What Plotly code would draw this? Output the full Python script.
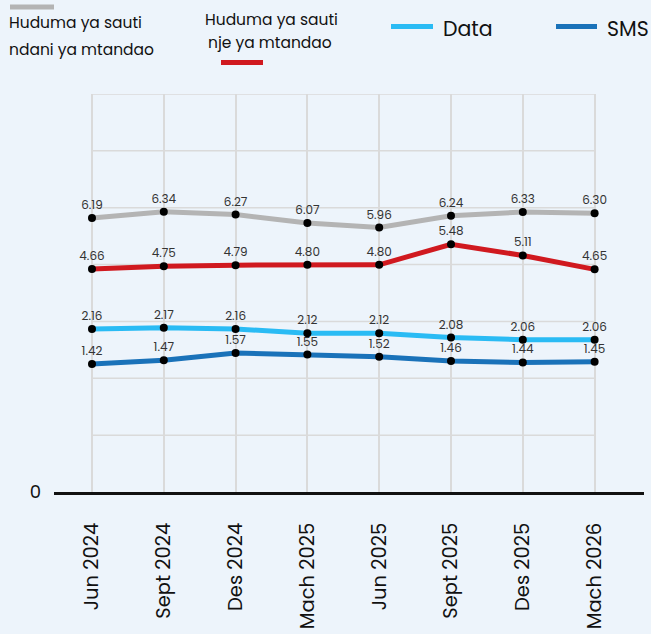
import plotly.graph_objects as go

categories = ["Jun 2024", "Sept 2024", "Des 2024", "Mach 2025", "Jun 2025", "Sept 2025", "Des 2025", "Mach 2026"]
sauti_ndani = [6.19, 6.34, 6.27, 6.07, 5.96, 6.24, 6.33, 6.30]
sauti_nje = [4.66, 4.75, 4.79, 4.80, 4.80, 5.48, 5.11, 4.65]
data_vals = [2.16, 2.17, 2.16, 2.12, 2.12, 2.08, 2.06, 2.06]
sms_vals = [1.42, 1.47, 1.57, 1.55, 1.52, 1.46, 1.44, 1.45]
tick_labels = ["Jun 2024", "Sept 2024", "Des 2024", "Mach 2025", "Jun 2025", "Sept 2025", "Des 2025", "Mach 2026"]

W, H = 651, 634
L, R, T, B = 54, 7, 94, 142
PW, PH = W - L - R, H - T - B

def px(x):
    return (x - L) / PW

def py(y):
    return (H - B - y) / PH

FONT = "Poppins, Inter, 'Noto Sans', sans-serif"
BG = "#EDF4FB"

series = [
    ("Huduma ya sauti ndani ya mtandao", sauti_ndani, "#B4B4B4", "y2", [-0.39, 9.165]),
    ("Huduma ya sauti nje ya mtandao", sauti_nje, "#D0191F", "y3", [-2.70, 10.44]),
    ("Data", data_vals, "#2ABBF4", "y4", [0.64, 4.35]),
    ("SMS", sms_vals, "#1A72B9", "y5", [-0.365, 5.18]),
]

fig = go.Figure()
layout_axes = {}
for i, (name, vals, col, yax, rng) in enumerate(series):
    fig.add_trace(go.Scatter(
        x=categories, y=vals, name=name, yaxis=yax,
        mode="lines+markers+text",
        line=dict(color=col, width=5),
        marker=dict(color="black", size=8),
        text=[f"{v:.2f}" for v in vals],
        textposition="top center",
        textfont=dict(size=12, color="#333333", family=FONT),
        cliponaxis=False,
        showlegend=False,
    ))
    layout_axes["yaxis%d" % (i + 2)] = dict(
        overlaying="y", range=rng, visible=False, showgrid=False, zeroline=False,
        automargin=False,
    )

shapes = []
# horizontal gridlines
for k in range(1, 8):
    shapes.append(dict(type="line", xref="x", yref="y", x0=0, x1=7, y0=k, y1=k,
                       line=dict(color="#DADADA", width=1.5), layer="below"))

# legend glyphs
legend_bars = [
    (10, 54, 7, "#B4B4B4"),
    (221, 263, 62.5, "#D0191F"),
    (391, 433, 26.5, "#2ABBF4"),
    (556, 597, 26.5, "#1A72B9"),
]
for x0, x1, yy, col in legend_bars:
    shapes.append(dict(type="line", xref="paper", yref="paper",
                       x0=px(x0), x1=px(x1), y0=py(yy), y1=py(yy),
                       line=dict(color=col, width=5)))

annotations = []
legend_texts = [
    ("Huduma ya sauti", 7, 22, 15.5),
    ("ndani ya mtandao", 7, 49, 15.5),
    ("Huduma ya sauti", 203, 20, 15.5),
    ("nje ya mtandao", 206, 42.5, 15.5),
    ("Data", 441, 28, 20.5),
    ("SMS", 605, 28, 20.5),
]
for txt, x, y, sz in legend_texts:
    annotations.append(dict(text=txt, xref="paper", yref="paper", x=px(x), y=py(y),
                            xanchor="left", yanchor="middle", showarrow=False,
                            font=dict(size=sz, color="#111111", family=FONT)))

fig.update_layout(
    width=W, height=H,
    margin=dict(l=L, r=R, t=T, b=B, autoexpand=False),
    paper_bgcolor=BG, plot_bgcolor=BG,
    font=dict(family=FONT, color="#111111"),
    showlegend=False,
    xaxis=dict(
        type="category", categoryorder="array", categoryarray=categories,
        tickvals=categories, ticktext=tick_labels,
        range=[-0.529, 7.688],
        showgrid=True, gridcolor="#DADADA", gridwidth=1.5,
        showline=True, linecolor="#111111", linewidth=3,
        ticks="", tickangle=-90,
        tickfont=dict(size=19.5, color="#111111", family=FONT),
        ticklabelstandoff=20,
        zeroline=False, automargin=False,
    ),
    yaxis=dict(
        range=[0, 7], tickvals=[0], ticktext=["0"],
        showgrid=False, zeroline=False, showline=False,
        ticks="", tickfont=dict(size=18, color="#111111", family=FONT),
        ticklabelstandoff=12, automargin=False,
    ),
    shapes=shapes,
    annotations=annotations,
    **layout_axes,
)

fig.write_html(
    "out.html",
    config={"displayModeBar": False},
    post_script="document.body.style.margin='0';document.body.style.padding='0';document.body.style.background='" + BG + "';",
)
